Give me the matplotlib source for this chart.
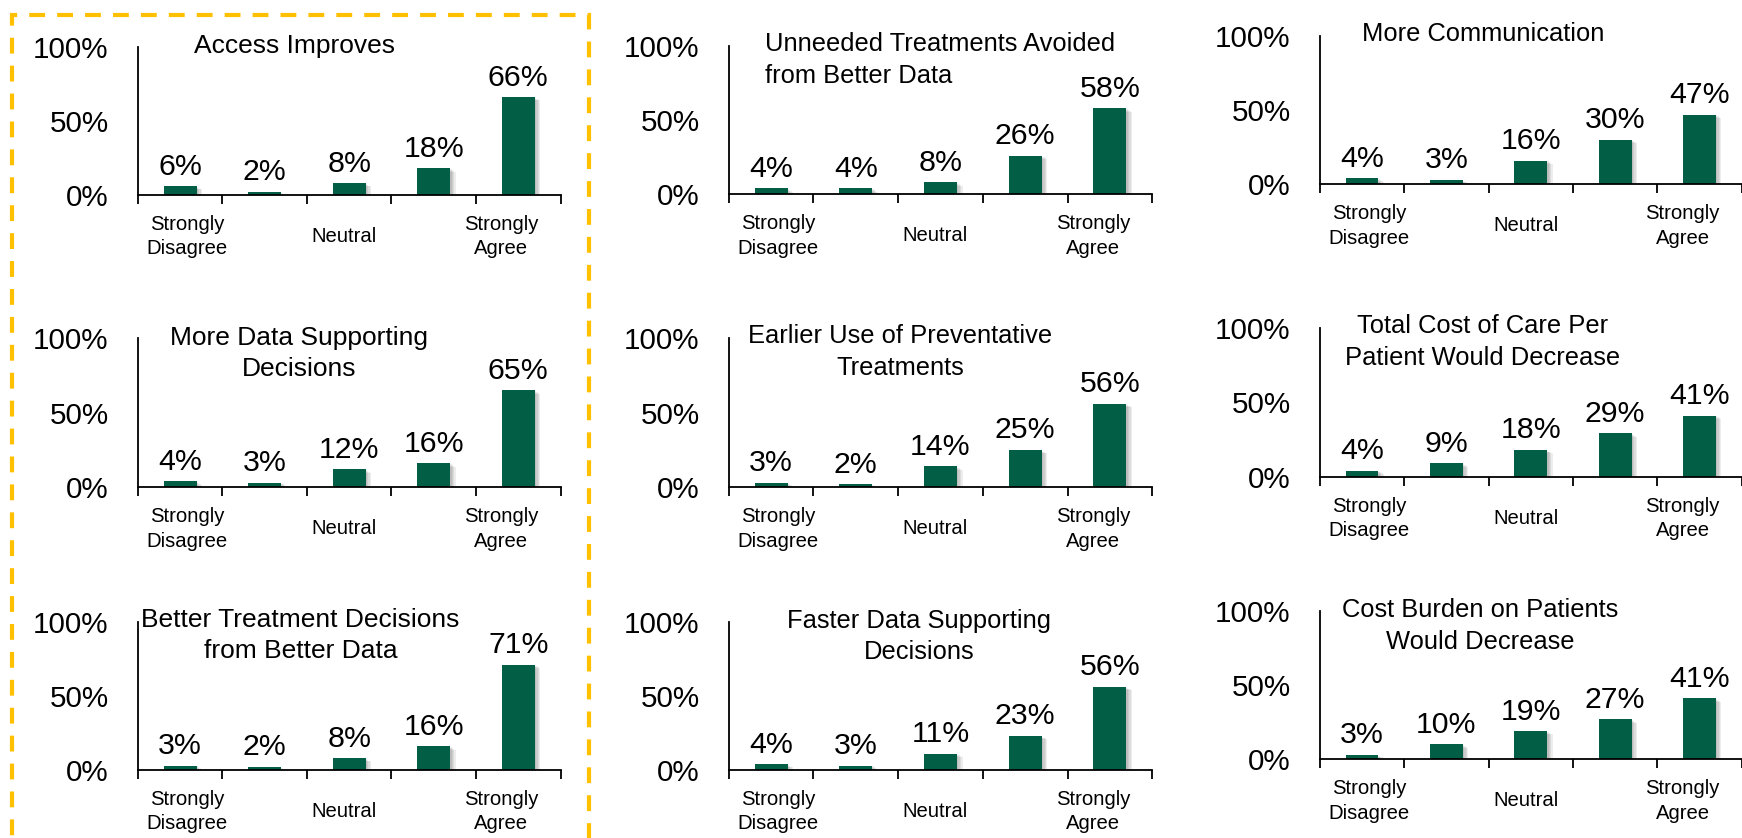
import numpy as np
import matplotlib
matplotlib.use('Agg')
import matplotlib.pyplot as plt
import matplotlib.patheffects as pe
from matplotlib.patches import Rectangle

plt.rcParams['font.family'] = ['Liberation Sans', 'DejaVu Sans']

W, H = 1742, 838

# survey panels, row by row
titles = [
    'Access Improves',
    'Unneeded Treatments Avoided\nfrom Better Data',
    'More Communication',
    'More Data Supporting\nDecisions',
    'Earlier Use of Preventative\nTreatments',
    'Total Cost of Care Per\nPatient Would Decrease',
    'Better Treatment Decisions\nfrom Better Data',
    'Faster Data Supporting\nDecisions',
    'Cost Burden on Patients\nWould Decrease',
]
values = [
    [6, 2, 8, 18, 66],
    [4, 4, 8, 26, 58],
    [4, 3, 16, 30, 47],
    [4, 3, 12, 16, 65],
    [3, 2, 14, 25, 56],
    [4, 9, 18, 29, 41],
    [3, 2, 8, 16, 71],
    [4, 3, 11, 23, 56],
    [3, 10, 19, 27, 41],
]
scale_labels = ['Strongly\nDisagree', 'Neutral', 'Strongly\nAgree']
yticks = [0, 50, 100]
ytick_labels = ['0%', '50%', '100%']

green = '#035E46'
gold = '#FFC000'

# layout (pixels from top-left)
col_x = [(137.8, 560.6), (728.7, 1152.3), (1319.8, 1741.6)]
row_y = [
    [(46.7, 195.0), (338.3, 487.3), (621.7, 770.0)],
    [(46.0, 194.3), (338.3, 487.3), (621.7, 770.0)],
    [(36.0, 184.3), (327.7, 476.7), (610.7, 759.3)],
]
title_xy = [(294.7, 45.5), (764.6, 60.3), (1482.9, 33.6),
            (299.0, 353.6), (900.0, 351.9), (1482.7, 341.9),
            (300.4, 635.6), (919.0, 636.6), (1480.0, 626.0)]
title_ha = ['center', 'left', 'center',
            'center', 'center', 'center',
            'center', 'center', 'center']
title_fs = [19, 18.4, 18.4]
scale_x = [0.08, 1.94, 3.8]

shadow = [pe.SimplePatchShadow(offset=(d, -0.6 * d), shadow_rgbFace='black', alpha=0.07)
          for d in (1, 2, 3, 4)] + [pe.Normal()]

fig = plt.figure(figsize=(W / 100, H / 100), dpi=100)

for i in range(9):
    r, c = divmod(i, 3)
    x0, x1 = col_x[c]
    yt, yb = row_y[c][r]
    ax = fig.add_axes([x0 / W, 1 - yb / H, (x1 - x0) / W, (yb - yt) / H])
    ax.patch.set_alpha(0)

    bars = ax.bar(np.arange(5), values[i], width=0.39, color=green, zorder=2)
    for b in bars:
        b.set_path_effects(shadow)

    ax.set_xlim(-0.5, 4.5)
    ax.set_ylim(0, 100)
    for s in ['top', 'right']:
        ax.spines[s].set_visible(False)
    for s in ['left', 'bottom']:
        ax.spines[s].set_linewidth(1.3)
        ax.spines[s].set_color('black')

    ax.set_xticks(np.arange(-0.5, 5, 1))
    ax.set_xticklabels([])
    ax.tick_params(axis='x', length=6.5, width=1.3, direction='out')
    ax.set_yticks(yticks)
    ax.set_yticklabels(ytick_labels)
    ax.tick_params(axis='y', length=0, pad=21, labelsize=21.3)

    for k, v in enumerate(values[i]):
        ax.annotate(f'{v}%', xy=(k, v), xytext=(0, 4), textcoords='offset points',
                    ha='center', va='bottom', fontsize=21.8)

    for xp, lab in zip(scale_x, scale_labels):
        ax.annotate(lab, xy=(xp, 0), xycoords=('data', 'axes fraction'),
                    xytext=(0, -30), textcoords='offset points',
                    ha='center', va='center', fontsize=14.6, linespacing=1.37,
                    multialignment='center', annotation_clip=False)

    tx, ty = title_xy[i]
    fig.text(tx / W, 1 - ty / H, titles[i], ha=title_ha[i], va='center',
             multialignment=title_ha[i], fontsize=title_fs[c], linespacing=1.41)

# dashed highlight around the first column
box = Rectangle((11.5 / W, -0.05), (589 - 11.5) / W, 1 - 15 / H + 0.05,
                transform=fig.transFigure, fill=False, edgecolor=gold,
                linewidth=3, linestyle=(0, (3.8, 2.9)), clip_on=False)
box.set_capstyle('butt')
fig.patches.append(box)

fig.savefig('out.png', dpi=100)
